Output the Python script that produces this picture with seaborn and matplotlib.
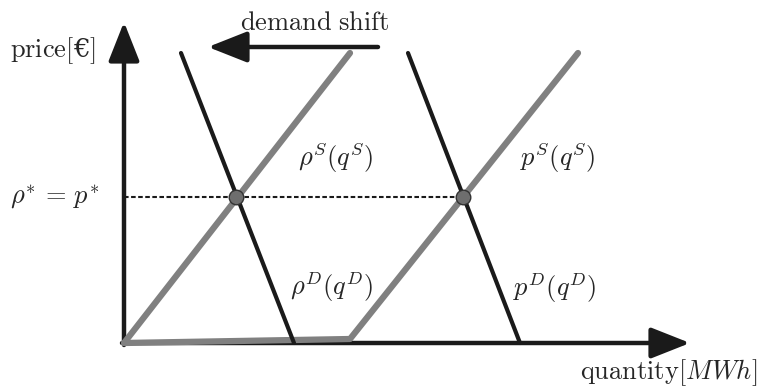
import numpy as np
import pandas as pd
import seaborn as sns
import matplotlib.pyplot as plt

# schematic market: two supply curves, two demand curves (arbitrary units)
supply_rho_q = [0.0, 22.6]
supply_rho_p = [0.0, 29.0]
supply_p_q = [0.0, 22.6, 45.4]
supply_p_p = [0.0, 0.4, 29.0]
demand_rho_q = [5.7, 17.0]
demand_rho_p = [29.0, 0.0]
demand_p_q = [28.4, 39.6]
demand_p_p = [29.0, 0.0]
eq_q = [11.2, 33.9]
eq_p = [14.6, 14.6]

sns.set_theme(style="white")
plt.rcParams['mathtext.fontset'] = 'cm'
plt.rcParams['font.family'] = ['DejaVu Serif']

fig = plt.figure(figsize=(7.67, 3.91), dpi=100)
ax = fig.add_axes([0, 0, 1, 1])
ax.set_xlim(-12.4, 64.3)
ax.set_ylim(-4.8, 34.3)
ax.axis('off')

black = '#1a1a1a'
grey = '#808080'

# axes as arrows
arrow = dict(arrowstyle='-|>,head_length=2.4,head_width=0.95', lw=3.2,
             color=black, mutation_scale=10, shrinkA=0, shrinkB=0)
ax.annotate('', xy=(0, 32.1), xytext=(0, -0.2), arrowprops=arrow)
ax.annotate('', xy=(56.6, 0), xytext=(-0.2, 0), arrowprops=arrow)
ax.annotate('', xy=(8.4, 29.6), xytext=(25.4, 29.6), arrowprops=arrow)

# equilibrium price line
ax.plot([0, eq_q[1]], [eq_p[0], eq_p[1]], color=black, lw=1.5,
        ls=(0, (2.2, 1.2)), zorder=2)

sns.lineplot(x=supply_rho_q, y=supply_rho_p, color=grey, lw=4.5, ax=ax,
             solid_capstyle='round', zorder=3)
sns.lineplot(x=supply_p_q, y=supply_p_p, color=grey, lw=4.5, ax=ax,
             solid_capstyle='round', solid_joinstyle='round', zorder=3)
sns.lineplot(x=demand_rho_q, y=demand_rho_p, color=black, lw=3, ax=ax,
             solid_capstyle='round', zorder=4)
sns.lineplot(x=demand_p_q, y=demand_p_p, color=black, lw=3, ax=ax,
             solid_capstyle='round', zorder=4)
sns.scatterplot(x=eq_q, y=eq_p, s=110, color='#6e6e6e', edgecolor='#333333',
                linewidth=1, ax=ax, zorder=5)

fs = 19
ax.text(11.6, 32.0, r'$\mathrm{demand\ shift}$', fontsize=fs, va='center', ha='left')
ax.text(-11.4, 29.2, r'$\mathrm{price}[$€$]$', fontsize=fs, va='center', ha='left')
ax.text(-11.4, 14.6, r'$\rho^{*}\,=\,p^{*}$', fontsize=fs, va='center', ha='left')
ax.text(17.4, 18.6, r'$\rho^{S}(q^{S})$', fontsize=fs, va='center', ha='left')
ax.text(39.6, 18.6, r'$p^{S}(q^{S})$', fontsize=fs, va='center', ha='left')
ax.text(16.6, 5.6, r'$\rho^{D}(q^{D})$', fontsize=fs, va='center', ha='left')
ax.text(38.9, 5.5, r'$p^{D}(q^{D})$', fontsize=fs, va='center', ha='left')
ax.text(45.6, -3.0, r'$\mathrm{quantity}[MWh]$', fontsize=fs, va='center', ha='left')

fig.savefig('out.png', dpi=100)
